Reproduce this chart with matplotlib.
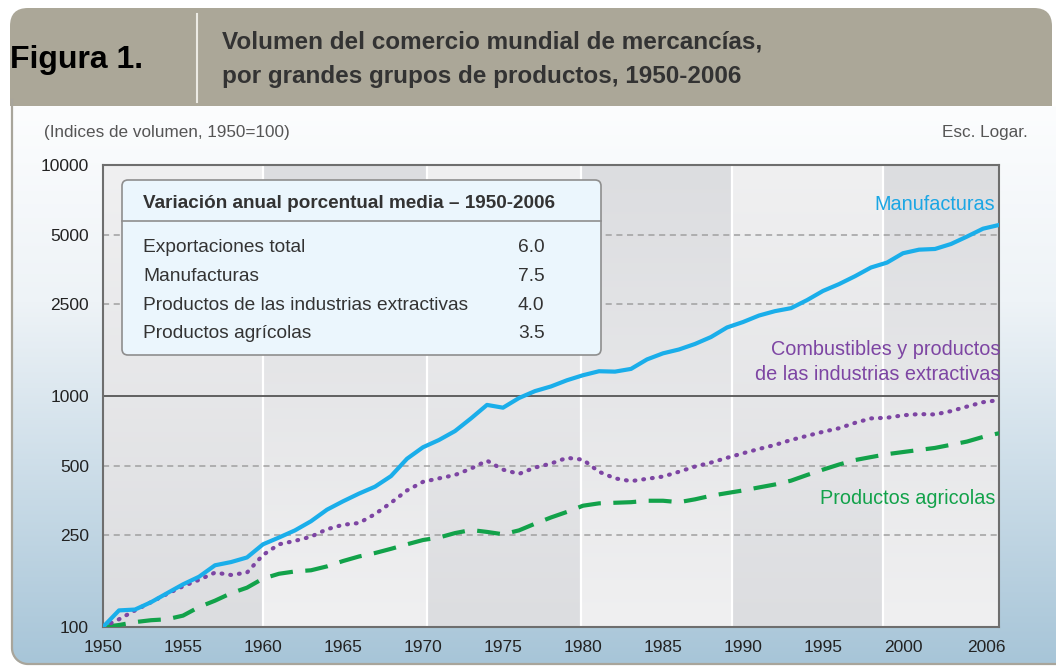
import numpy as np
import matplotlib
matplotlib.use('Agg')
import matplotlib.pyplot as plt
from matplotlib.colors import LinearSegmentedColormap
from matplotlib.patches import FancyBboxPatch, Rectangle

# datos (indices de volumen, 1950=100)
years = np.arange(1950, 2007)
manufacturas = [100, 118, 119, 128, 140, 153, 165, 185, 191, 200,
                228, 244, 262, 287, 322, 350, 378, 405, 450, 535,
                600, 645, 705, 800, 915, 890, 980, 1050, 1100, 1170,
                1230, 1280, 1275, 1310, 1440, 1530, 1590, 1680, 1800, 1980,
                2090, 2230, 2330, 2400, 2600, 2850, 3050, 3300, 3600, 3780,
                4150, 4300, 4330, 4550, 4900, 5300, 5500]
extractivas = [100, 108, 118, 128, 139, 150, 160, 172, 168, 172,
               205, 228, 236, 246, 265, 277, 282, 308, 345, 390,
               425, 440, 455, 485, 525, 480, 460, 490, 510, 540,
               530, 470, 440, 428, 438, 448, 470, 495, 515, 540,
               565, 590, 614, 645, 672, 700, 725, 765, 800, 805,
               825, 835, 832, 860, 900, 940, 960]
agricolas = [100, 102, 105, 107, 108, 112, 122, 130, 140, 148,
             162, 170, 174, 176, 183, 193, 202, 209, 218, 228,
             238, 244, 255, 263, 258, 252, 262, 280, 298, 315,
             335, 343, 345, 347, 352, 352, 347, 357, 370, 380,
             390, 402, 414, 430, 455, 480, 505, 528, 544, 560,
             572, 584, 596, 615, 635, 665, 690]

tabla_labels = ['Exportaciones total', 'Manufacturas',
                'Productos de las industrias extractivas', 'Productos agrícolas']
tabla_vals = ['6.0', '7.5', '4.0', '3.5']

y_ticks = [100, 250, 500, 1000, 2500, 5000, 10000]
x_ticks = [1950, 1955, 1960, 1965, 1970, 1975, 1980, 1985, 1990, 1995, 2000, 2005.2]
x_labels = ['1950', '1955', '1960', '1965', '1970', '1975', '1980', '1985',
            '1990', '1995', '2000', '2006']

plt.rcParams['font.family'] = ['Liberation Sans', 'DejaVu Sans']

W, H = 1056, 668
fig = plt.figure(figsize=(W / 100, H / 100), dpi=100)
fig.patch.set_facecolor('white')

# fondo en coordenadas de pixel
bg = fig.add_axes([0, 0, 1, 1])
bg.set_xlim(0, W)
bg.set_ylim(H, 0)
bg.axis('off')

cmap_bg = LinearSegmentedColormap.from_list('bg', [(0, '#fcfdfe'), (0.35, '#eef3f7'), (1, '#a7c5d8')])
grad = np.linspace(0, 1, 256).reshape(-1, 1)
body = FancyBboxPatch((12, 20), 1100, 644, boxstyle='round,pad=0,rounding_size=16',
                      fc='none', ec='none', transform=bg.transData)
bg.add_patch(body)
im = bg.imshow(grad, extent=(12, 1070, 664, 106), cmap=cmap_bg, aspect='auto')
im.set_clip_path(body)
# borde izquierdo e inferior con esquina redondeada
t = np.linspace(np.pi, np.pi / 2, 20)
bx = np.concatenate([[12], 28 + 16 * np.cos(t), [1060]])
by = np.concatenate([[100], 648 + 16 * np.sin(t), [664]])
bg.plot(bx, by, color='#a8a59b', lw=1.6)
bg.set_xlim(0, W)
bg.set_ylim(H, 0)

# cabecera
bg.add_patch(FancyBboxPatch((10, 8), 1042, 98, boxstyle='round,pad=0,rounding_size=18',
                            fc='#aba798', ec='none'))
bg.add_patch(Rectangle((10, 50), 1042, 56, fc='#aba798', ec='none'))
bg.plot([197, 197], [14, 102], color='#ecebe4', lw=1.5)
bg.text(10, 60, 'Figura 1.', fontsize=23, fontweight='bold',
        color='black', va='center', ha='left')
bg.text(222, 42, 'Volumen del comercio mundial de mercancías,', fontsize=17.5,
        fontweight='bold', color='#333333', va='center')
bg.text(222, 77, 'por grandes grupos de productos, 1950-2006', fontsize=17.5,
        fontweight='bold', color='#333333', va='center')
bg.text(44, 133, '(Indices de volumen, 1950=100)', fontsize=12.3,
        color='#555555', va='center')
bg.text(1028, 133, 'Esc. Logar.', fontsize=12.3,
        color='#555555', va='center', ha='right')

rect = [103 / W, 1 - 627 / H, 896 / W, 462 / H]
x0, x1 = 1950, 2006

# bandas por decada con degradado
bands = fig.add_axes(rect)
bands.set_xlim(x0, x1)
bands.set_ylim(0, 1)
bands.axis('off')
edges = [1950, 1960, 1970.25, 1979.9, 1989.3, 1998.75, 2006]
cm_band = LinearSegmentedColormap.from_list('band', ['#f0f0f1', '#dcdde0'])
for i in range(len(edges) - 1):
    g = grad if i % 2 == 0 else grad[::-1]
    bands.imshow(g, extent=(edges[i], edges[i + 1], 0, 1), cmap=cm_band,
                 aspect='auto', vmin=0, vmax=1)
bands.set_xlim(x0, x1)
bands.set_ylim(0, 1)

ax = fig.add_axes(rect)
ax.set_facecolor('none')
ax.set_yscale('log')
ax.set_xlim(x0, x1)
ax.set_ylim(100, 10000)
for e in edges[1:-1]:
    ax.axvline(e, color='white', lw=1.6, zorder=1)
for v in [250, 500, 2500, 5000]:
    ax.axhline(v, color='#a0a0a0', lw=1.1, ls=(0, (4, 3)), zorder=1)
ax.axhline(1000, color='#555555', lw=1.3, zorder=1)

ax.plot(years, agricolas, color='#12a24a', lw=3, ls=(0, (5.5, 3)), zorder=3)
ax.plot(years, extractivas, color='#7d45a3', lw=3, ls=(0, (0.2, 1.9)),
        dash_capstyle='round', zorder=3)
ax.plot(years, manufacturas, color='#1aaeea', lw=3, zorder=4, solid_joinstyle='round')

ax.set_yticks(y_ticks)
ax.set_yticklabels([str(v) for v in y_ticks])
ax.yaxis.set_minor_locator(matplotlib.ticker.NullLocator())
ax.set_xticks(x_ticks)
ax.set_xticklabels(x_labels)
ax.tick_params(length=0, labelsize=12.5, labelcolor='#222222')
ax.tick_params(axis='y', pad=10)
ax.tick_params(axis='x', pad=9)
for s in ax.spines.values():
    s.set_color('#6e6e6e')
    s.set_linewidth(1.5)

# capa superior: recuadro y etiquetas de series
top = fig.add_axes([0, 0, 1, 1], zorder=5)
top.set_xlim(0, W)
top.set_ylim(H, 0)
top.axis('off')
top.add_patch(FancyBboxPatch((122, 180), 479, 175, boxstyle='round,pad=0,rounding_size=6',
                             fc='#ebf6fd', ec='#8e8e8e', lw=1.2))
top.plot([122, 601], [221, 221], color='#8e8e8e', lw=1.2)
top.text(143, 203, 'Variación anual porcentual media – 1950-2006', fontsize=13.6,
         fontweight='bold', color='#333333', va='center')
for i, (lab, val) in enumerate(zip(tabla_labels, tabla_vals)):
    yy = 248 + i * 28.5
    top.text(143, yy, lab, fontsize=13.8, color='#333333', va='center')
    top.text(518, yy, val, fontsize=13.8, color='#333333', va='center')

top.text(995, 205, 'Manufacturas', fontsize=14.3, color='#1aa6e4',
         ha='right', va='center')
top.text(1000, 362, 'Combustibles y productos\nde las industrias extractivas', fontsize=14.3,
         color='#7d45a3', ha='right', va='center', linespacing=1.4)
top.text(995, 498, 'Productos agricolas', fontsize=14.3, color='#12a24a',
         ha='right', va='center')

fig.savefig('out.png', dpi=100)
